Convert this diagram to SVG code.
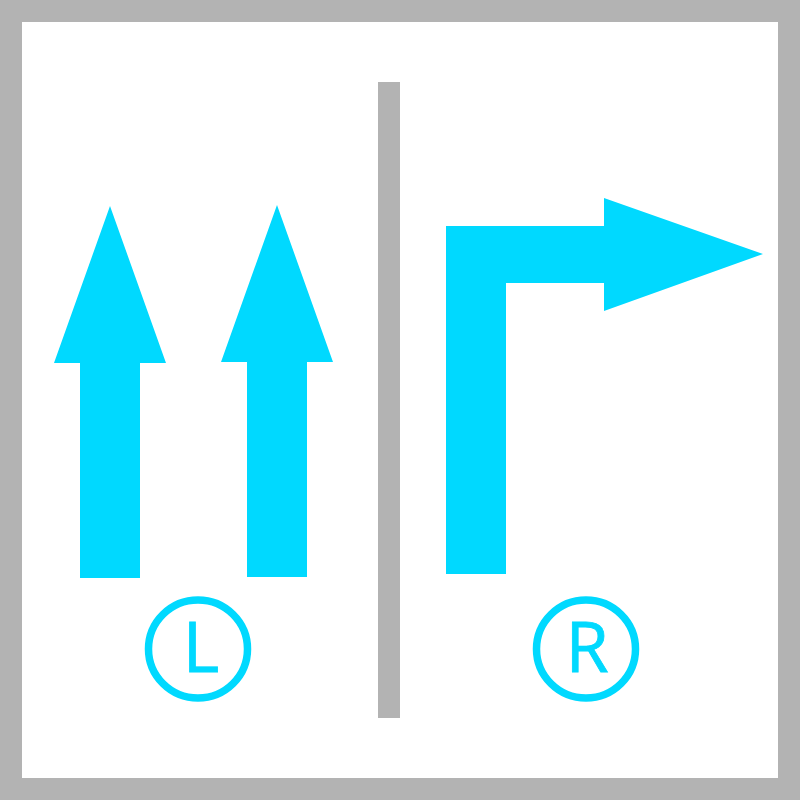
<svg xmlns="http://www.w3.org/2000/svg" width="800" height="800" viewBox="0 0 800 800">
<style>
.a{fill:#00d9ff}
.c{fill:none;stroke:#00d9ff;stroke-width:7.5}
.t{fill:#00d9ff;font-family:"Open Sans",sans-serif;font-size:70px;text-anchor:middle}
</style>
<rect x="0" y="0" width="800" height="800" fill="#b3b3b3"/>
<rect x="22" y="22" width="756" height="756" fill="#ffffff"/>
<rect id="divider" x="378" y="82" width="22" height="636" fill="#b3b3b3"/>
<g id="arrow-left-1"><polygon class="a" points="110,206 166,363 140,363 140,578 80,578 80,363 54,363"/></g>
<g id="arrow-left-2"><polygon class="a" points="277,205 333,362 307,362 307,577 247,577 247,362 221,362"/></g>
<g id="arrow-right"><polygon class="a" points="446,574 446,226 604,226 604,198 763,254 604,311 604,283 506,283 506,574"/></g>
<g id="label-L"><ellipse class="c" cx="198" cy="649" rx="49.5" ry="49"/><text class="t" x="201" y="672" stroke="#00d9ff" stroke-width="0.8">L</text></g>
<g id="label-R"><ellipse class="c" cx="586" cy="649" rx="49.5" ry="49"/><text class="t" x="587" y="672" stroke="#00d9ff" stroke-width="0.8">R</text></g>
<g id="connectors"></g>
</svg>
